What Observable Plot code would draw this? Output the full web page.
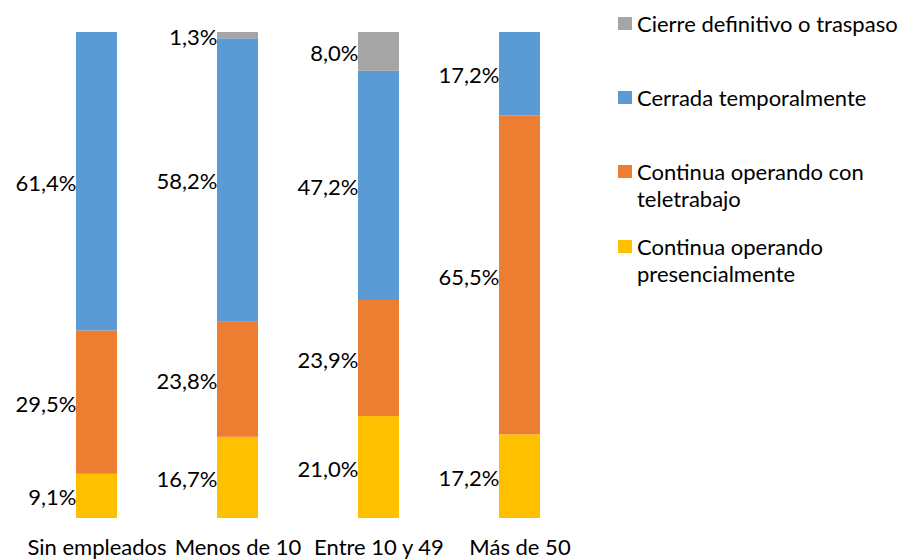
<!DOCTYPE html>
<html>
<head>
<meta charset="utf-8">
<script src="https://cdn.jsdelivr.net/npm/d3@7"></script>
<script src="https://cdn.jsdelivr.net/npm/@observablehq/plot@0.6"></script>
<style>
  body { margin: 0; background: #fff; }
  #wrap { position: relative; width: 903px; height: 560px; font-family: Lato, "Open Sans", sans-serif; }
  #legend { position: absolute; left: 618px; top: 0; font-size: 22px; color: #000; }
  .item { position: absolute; left: 0; white-space: nowrap; line-height: 27px; }
  .sw { position: absolute; left: 0; width: 14px; height: 13px; }
  .lbl { position: absolute; left: 19px; }
</style>
</head>
<body>
<div id="wrap"><div id="legend"></div></div>
<script>
const categories = ["Sin empleados", "Menos de 10", "Entre 10 y 49", "Más de 50"];
const series = ["Continua operando presencialmente", "Continua operando con teletrabajo", "Cerrada temporalmente", "Cierre definitivo o traspaso"];
const legendLines = [["Cierre definitivo o traspaso"], ["Cerrada temporalmente"], ["Continua operando con", "teletrabajo"], ["Continua operando", "presencialmente"]];
const colors = ["#FFC000", "#ED7D31", "#5B9BD5", "#A5A5A5"];
const presencial = [9.1, 16.7, 21.0, 17.2];
const teletrabajo = [29.5, 23.8, 23.9, 65.5];
const cerrada = [61.4, 58.2, 47.2, 17.2];
const cierre = [0, 1.3, 8.0, 0];

const valuesBySeries = [presencial, teletrabajo, cerrada, cierre];
const data = [];
series.forEach((s, si) => categories.forEach((c, ci) => {
  const v = valuesBySeries[si][ci];
  if (v > 0) data.push({cat: c, series: s, value: v});
}));
const fmt = v => v.toFixed(1).replace(".", ",") + "%";

const bandwidth = 41;
const fs = 22;
const plot = Plot.plot({
  width: 903, height: 560,
  marginTop: 32, marginBottom: 42, marginLeft: 24, marginRight: 312,
  style: {fontFamily: "Lato, 'Open Sans', sans-serif", fontSize: fs + "px", color: "#000", background: "transparent"},
  x: {domain: categories, paddingInner: 0.71, paddingOuter: 0.355, axis: null, label: null},
  y: {domain: [0, 1], axis: null},
  color: {domain: series, range: colors},
  marks: [
    Plot.barY(data, Plot.stackY({x: "cat", y: "value", fill: "series", offset: "normalize", order: series})),
    Plot.text(data, Plot.stackY({x: "cat", y: "value", z: "series", offset: "normalize", order: series, text: d => fmt(d.value), textAnchor: "end", dx: -bandwidth / 2, dy: 2, fill: "#000", fontSize: fs})),
    Plot.axisX({tickSize: 0, tickPadding: 21, fontSize: fs, fill: "#000", label: null})
  ]
});
document.getElementById("wrap").prepend(plot);

const centers = [23, 97.5, 171.5, 246.5];
const legend = document.getElementById("legend");
legendLines.forEach((lines, i) => {
  const item = document.createElement("div");
  item.className = "item";
  item.style.top = (centers[i] - 13.5) + "px";
  const sw = document.createElement("div");
  sw.className = "sw";
  sw.style.background = colors[3 - i];
  sw.style.top = "7px";
  item.appendChild(sw);
  const lbl = document.createElement("div");
  lbl.className = "lbl";
  lbl.innerHTML = lines.join("<br>");
  item.appendChild(lbl);
  legend.appendChild(item);
});
</script>
</body>
</html>
